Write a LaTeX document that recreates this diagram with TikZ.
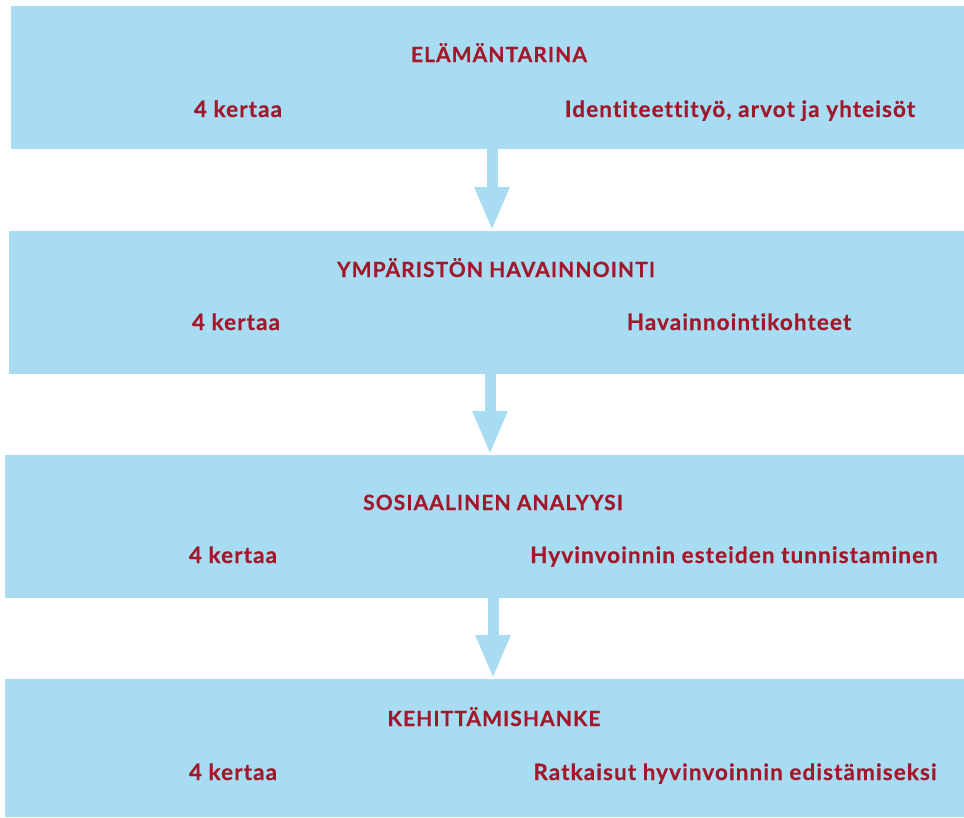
\documentclass[tikz,border=0pt]{standalone}
\usepackage{fontspec}
\setmainfont{Lato}[Ligatures={NoCommon}]
\usetikzlibrary{arrows.meta}
\definecolor{boxblue}{HTML}{A8DCF3}
\definecolor{txtred}{HTML}{A3172B}
\begin{document}
\begin{tikzpicture}[x=1pt,y=-1pt,
  stagebox/.style={fill=boxblue, draw=none, inner sep=0pt, outer sep=0pt, anchor=north west, minimum width=#1},
  lbl/.style={text=txtred, font=\bfseries\addfontfeatures{LetterSpace=4.8,FakeBold=0.35}\fontsize{22.5}{26}\selectfont, anchor=base, inner sep=0pt},
  ttl/.style={text=txtred, font=\bfseries\addfontfeatures{LetterSpace=5,FakeBold=0.35}\fontsize{21}{24}\selectfont, anchor=base, inner sep=0pt},
  flow/.style={draw=boxblue, line width=11pt, -{Triangle[width=32pt,length=44pt]}}]
\useasboundingbox (0,0) rectangle (964,817);
% boxes
\node[stagebox=953pt, minimum height=142.5pt] (b1) at (11,6) {};
\node[stagebox=955pt, minimum height=142.5pt] (b2) at (9,231) {};
\node[stagebox=959pt, minimum height=142.5pt] (b3) at (5,455) {};
\node[stagebox=959pt, minimum height=137.5pt] (b4) at (5,679) {};
% texts
\node[ttl] (t1) at (499,62) {ELÄMÄNTARINA};
\node[lbl] (l1) at (238,117) {4 kertaa};
\node[lbl] (r1) at (740,117) {Identiteettityö, arvot ja yhteisöt};
\node[ttl] (t2) at (496,277) {YMPÄRISTÖN HAVAINNOINTI};
\node[lbl] (l2) at (236,330) {4 kertaa};
\node[lbl] (r2) at (739,330) {Havainnointikohteet};
\node[ttl] (t3) at (493,510) {SOSIAALINEN ANALYYSI};
\node[lbl] (l3) at (233,563) {4 kertaa};
\node[lbl] (r3) at (734,563) {Hyvinvoinnin esteiden tunnistaminen};
\node[ttl] (t4) at (494,726) {KEHITTÄMISHANKE};
\node[lbl] (l4) at (233,780) {4 kertaa};
\node[lbl] (r4) at (735,780) {Ratkaisut hyvinvoinnin edistämiseksi};
% arrows
\coordinate (x1) at (492,0);
\coordinate (x2) at (490,0);
\coordinate (x3) at (493,0);
\draw[flow] (b1.south -| x1) -- (b2.north -| x1);
\draw[flow] (b2.south -| x2) -- (b3.north -| x2);
\draw[flow] (b3.south -| x3) -- (b4.north -| x3);
\end{tikzpicture}
\end{document}
